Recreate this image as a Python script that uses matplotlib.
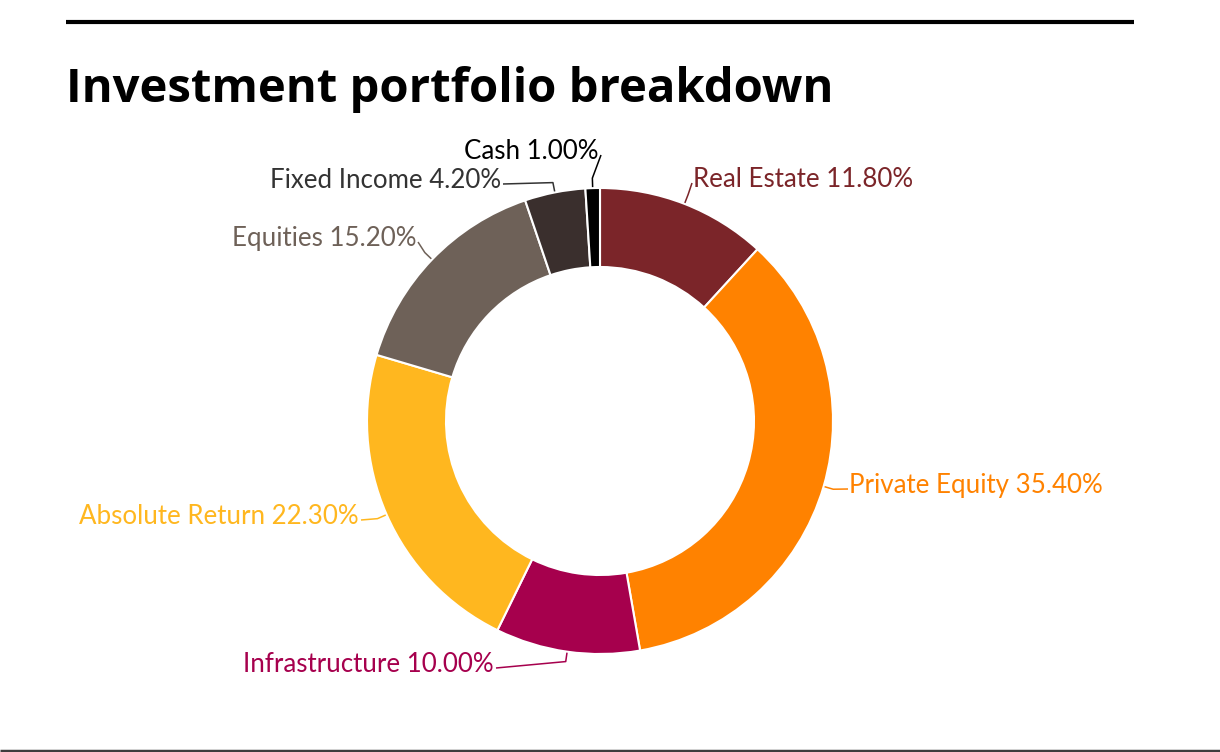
import numpy as np
import matplotlib
matplotlib.use('Agg')
import matplotlib.pyplot as plt

# data
categories = ['Real Estate', 'Private Equity', 'Infrastructure', 'Absolute Return',
              'Equities', 'Fixed Income', 'Cash']
shares = [11.8, 35.4, 10.0, 22.3, 15.2, 4.2, 1.0]
colors = ['#7b2529', '#ff8200', '#a6004d', '#ffb71f', '#6e6158', '#3a2f2d', '#000000']
label_colors = ['#7b2529', '#ff8200', '#a6004d', '#ffb71f', '#6e6158', '#333333', '#000000']

# label layout (screen px): side x, baseline y, alignment
label_pos = [(693, 187, 'left'), (849, 493, 'left'), (494, 672, 'right'),
             (359, 524, 'right'), (416, 246, 'right'), (501, 188, 'right'),
             (599, 159, 'right')]

W, H = 1220, 752
fig = plt.figure(figsize=(W / 100, H / 100), dpi=100)
ax = fig.add_axes([0, 0, 1, 1])
ax.axis('off')

cx, cy = 600, H - 421
R, r_in = 233, 154

wedges, _ = ax.pie(shares, colors=colors, startangle=90, counterclock=False,
                   radius=R, center=(cx, cy),
                   wedgeprops=dict(width=R - r_in, edgecolor='white', linewidth=1.5))
ax.set_xlim(0, W)
ax.set_ylim(0, H)
ax.set_aspect('equal')

for w, name, val, col, (lx, ly, ha) in zip(wedges, categories, shares, label_colors, label_pos):
    mid = np.deg2rad((w.theta1 + w.theta2) / 2)
    p0 = (cx + (R + 1) * np.cos(mid), cy + (R + 1) * np.sin(mid))
    p1 = (cx + (R + 10) * np.cos(mid), cy + (R + 10) * np.sin(mid))
    ty = H - ly
    ex = lx - 1 if ha == 'left' else lx + 2
    ax.plot([p0[0], p1[0], ex], [p0[1], p1[1], ty + 4], color=col, lw=1.1,
            solid_capstyle='butt')
    ax.text(lx, ty, f'{name} {val:.2f}%', ha=ha, va='baseline', color=col,
            fontsize=18.6, family='Lato')

# title and rules
fig.text(66 / W, 1 - 102 / H, 'Investment portfolio breakdown', fontsize=34,
         fontweight='bold', family='Open Sans', color='black', va='baseline')
ax.plot([66, 1134], [H - 22, H - 22], color='black', lw=3, solid_capstyle='butt')
ax.plot([0, W], [1.5, 1.5], color='#3d3d3d', lw=2.5, solid_capstyle='butt')

fig.savefig('out.png', dpi=100, facecolor='white')
